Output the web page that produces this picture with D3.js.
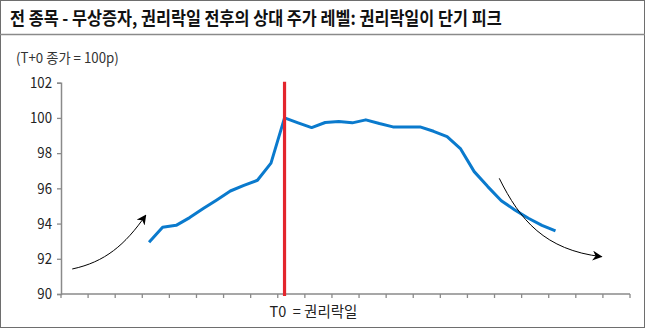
<!DOCTYPE html>
<html>
<head>
<meta charset="utf-8">
<script src="https://cdn.jsdelivr.net/npm/d3@7"></script>
<style>
  html, body { margin: 0; padding: 0; background: #fff; }
  svg { display: block; }
  text { font-family: "Noto Sans CJK KR", "Noto Sans", sans-serif; white-space: pre; }
</style>
</head>
<body>
<svg id="chart" width="645" height="328"></svg>
<script>
// Trading days relative to the ex-rights date (T0)
const days = d3.range(-16, 26);
// Days that carry a price value
const valueDays = d3.range(-10, 21);
// Relative price level (T+0 close = 100)
const priceLevel = [
  92.94, 93.79, 93.90, 94.34, 94.85, 95.34, 95.85, 96.17, 96.46, 97.43,
  100.0,
  99.72, 99.45, 99.74, 99.79, 99.72, 99.89, 99.68, 99.49, 99.49, 99.49,
  99.24, 98.94, 98.24, 96.95, 96.10, 95.30, 94.77, 94.30, 93.90, 93.58
];
const yTicks = [90, 92, 94, 96, 98, 100, 102];
const exRightsDay = 0;
// Trend arrows, as [day, level] control points of a cubic curve
const arrowUp = [[-15.67, 91.42], [-13.25, 91.82], [-11.78, 92.78], [-10.25, 94.47]];
const arrowDown = [[15.85, 96.57], [17.37, 94.2], [19.22, 92.5], [23.4, 92.12]];

const titleText = "전 종목 - 무상증자, 권리락일 전후의 상대 주가 레벨: 권리락일이 단기 피크";
const unitText = "(T+0 종가 = 100p)";
const t0Text = "T0\u00a0\u00a0= 권리락일";

const W = 645, H = 328;
const svg = d3.select("#chart");

// Outer frame and title rule
svg.append("rect").attr("x", 0.5).attr("y", 0.5).attr("width", W - 1).attr("height", H - 1)
  .attr("fill", "#fff").attr("stroke", "#6e6e6e").attr("stroke-width", 1);
svg.append("line").attr("x1", 0).attr("x2", W).attr("y1", 34.5).attr("y2", 34.5)
  .attr("stroke", "#8a8a8a").attr("stroke-width", 1.3);

svg.append("text").attr("transform", "translate(10,25) scale(0.905,1)")
  .attr("font-size", 18).attr("font-weight", "bold").attr("fill", "#111")
  .text(titleText);

svg.append("text").attr("transform", "translate(16,63) scale(0.95,1)")
  .attr("font-size", 14).attr("fill", "#333")
  .text(unitText);

// Scales
const x = d3.scaleBand().domain(days).range([61, 630]).padding(0);
const bw = x.bandwidth();
const cx = d => x(d) + bw / 2;
const xl = d3.scaleLinear().domain([days[0], days[days.length - 1]])
  .range([cx(days[0]), cx(days[days.length - 1])]);
const y = d3.scaleLinear().domain([90, 102]).range([294, 82.7]);

// Y axis
const yAxis = d3.axisLeft(y).tickValues(yTicks).tickSize(4).tickPadding(5);
const gy = svg.append("g").attr("transform", "translate(61,0)").call(yAxis);
gy.select(".domain").attr("stroke", "#8a8a8a").attr("stroke-width", 1.5);
gy.selectAll(".tick line").attr("stroke", "#8a8a8a").attr("stroke-width", 1.3);
gy.selectAll(".tick text").attr("font-size", 15).attr("fill", "#222")
  .attr("font-family", "'Liberation Sans', Arial, sans-serif")
  .attr("transform", "translate(-10,0) scale(0.88,1)").attr("x", -9 / 0.88 + 10 / 0.88);

// X axis: ticks every second day on category boundaries
const boundaries = days.filter((d, i) => i % 2 === 0);
const gx = svg.append("g");
gx.append("line").attr("x1", x.range()[0]).attr("x2", x.range()[1])
  .attr("y1", y(90)).attr("y2", y(90))
  .attr("stroke", "#8a8a8a").attr("stroke-width", 1.5);
gx.selectAll(".tk").data(boundaries.concat(["end"])).join("line")
  .attr("class", "tk")
  .attr("x1", d => d === "end" ? x.range()[1] : x(d))
  .attr("x2", d => d === "end" ? x.range()[1] : x(d))
  .attr("y1", y(90)).attr("y2", y(90) + 4)
  .attr("stroke", "#8a8a8a").attr("stroke-width", 1.3);

svg.append("text").attr("x", cx(exRightsDay) - 15).attr("y", 317)
  .attr("font-size", 14.5).attr("fill", "#222")
  .text(t0Text);

// Price line
const line = d3.line().x(d => cx(d[0])).y(d => y(d[1]));
svg.append("path")
  .datum(valueDays.map((d, i) => [d, priceLevel[i]]))
  .attr("d", line)
  .attr("fill", "none").attr("stroke", "#0a7acd").attr("stroke-width", 3)
  .attr("stroke-linejoin", "round");

// Ex-rights date marker
svg.append("line")
  .attr("x1", cx(exRightsDay)).attr("x2", cx(exRightsDay))
  .attr("y1", y(102) - 1).attr("y2", y(90) + 2)
  .attr("stroke", "#e3252d").attr("stroke-width", 3.2);

// Trend arrows
const defs = svg.append("defs");
defs.append("marker").attr("id", "head")
  .attr("viewBox", "0 0 10 10").attr("refX", 9).attr("refY", 5)
  .attr("markerWidth", 10).attr("markerHeight", 10)
  .attr("markerUnits", "userSpaceOnUse").attr("orient", "auto")
  .append("path").attr("d", "M0,0 L10,5 L0,10 L3,5 Z").attr("fill", "#000");

function curvePath(pts) {
  const p = pts.map(d => [xl(d[0]), y(d[1])]);
  return `M${p[0]}C${p[1]} ${p[2]} ${p[3]}`;
}
[arrowUp, arrowDown].forEach(pts => {
  svg.append("path").attr("d", curvePath(pts))
    .attr("fill", "none").attr("stroke", "#000").attr("stroke-width", 1)
    .attr("marker-end", "url(#head)");
});
</script>
</body>
</html>
